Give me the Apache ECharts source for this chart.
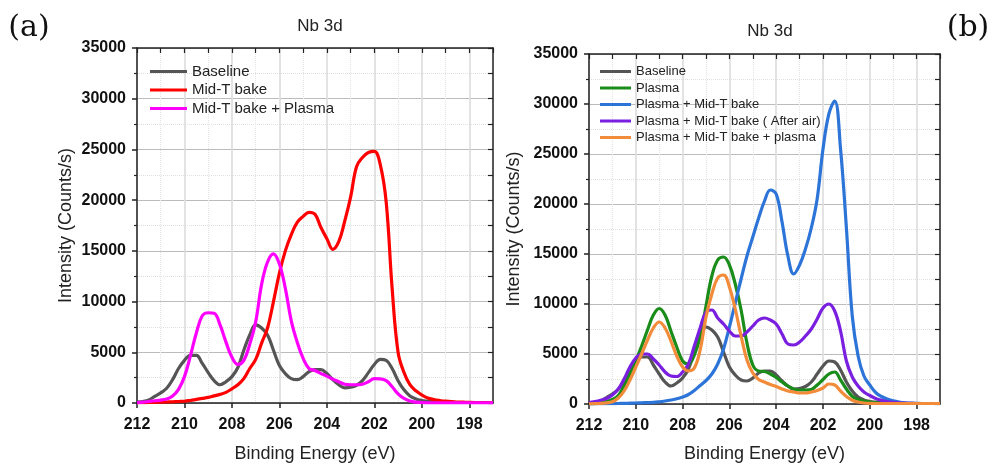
<!DOCTYPE html>
<html>
<head>
<meta charset="utf-8">
<title>Nb 3d</title>
<script src="https://cdn.jsdelivr.net/npm/echarts@6/dist/echarts.min.js"></script>
<style>
  html, body { margin: 0; padding: 0; background: #fff; }
  #chart { width: 997px; height: 464px; }
</style>
</head>
<body>
<div id="chart"></div>
<script>
// binding energy (eV), same grid for every curve
const energy = [
  212, 211.75, 211.5, 211.25, 211, 210.75, 210.5, 210.25, 210, 209.75,
  209.5, 209.25, 209, 208.75, 208.5, 208.25, 208, 207.75, 207.5, 207.25,
  207, 206.75, 206.5, 206.25, 206, 205.75, 205.5, 205.25, 205, 204.75,
  204.5, 204.25, 204, 203.75, 203.5, 203.25, 203, 202.75, 202.5, 202.25,
  202, 201.75, 201.5, 201.25, 201, 200.75, 200.5, 200.25, 200, 199.75,
  199.5, 199.25, 199, 198.75, 198.5, 198.25, 198, 197.75, 197.5, 197.25,
  197
]

// intensities (Counts/s)
const baseline = [
  100, 150, 300, 650, 1000, 1450, 2300, 3400, 4200, 4700,
  4700, 3900, 3000, 2200, 1800, 2100, 2600, 3500, 5200, 6700,
  7700, 7400, 6700, 5200, 3700, 2900, 2400, 2300, 2600, 3100,
  3300, 3300, 2900, 2300, 1800, 1500, 1550, 1750, 2200, 3000,
  3800, 4300, 4200, 3400, 2200, 1300, 700, 400, 250, 180,
  130, 100, 80, 60, 50, 50, 50, 50, 50, 50,
  50
]
const midTBake = [
  30, 40, 50, 60, 80, 100, 120, 150, 170, 250,
  350, 450, 550, 700, 850, 1050, 1400, 1800, 2400, 3400,
  4300, 5900, 7400, 10000, 12800, 15000, 16600, 17800, 18400, 18800,
  18600, 17300, 16200, 15150, 15900, 17900, 20300, 23300, 24200, 24700,
  24800, 23500, 19800, 11300, 5000, 3000, 1800, 1200, 800, 500,
  350, 250, 180, 150, 100, 80, 60, 50, 50, 50,
  50
]
const midTBakePlasma = [
  30, 80, 150, 220, 280, 400, 700, 1350, 2600, 4650,
  6900, 8600, 8900, 8850, 7700, 6000, 4500, 3800, 4200, 5800,
  8000, 11700, 13900, 14700, 13700, 11300, 8100, 6000, 4400, 3400,
  3200, 2900, 2650, 2350, 2100, 1850, 1800, 1800, 1850, 2100,
  2400, 2380, 2200, 1600, 900, 450, 200, 80, 30, 20,
  20, 20, 20, 20, 20, 20, 20, 20, 20, 20,
  20
]
const plasma = [
  30, 60, 120, 260, 450, 850, 1800, 3000, 4300, 5800,
  7400, 8900, 9550, 8900, 7300, 5700, 4300, 4000, 4900, 6700,
  9800, 12800, 14400, 14700, 13900, 12000, 9400, 6100, 3900, 3300,
  3250, 3000, 2650, 2200, 1800, 1500, 1400, 1400, 1450, 1900,
  2450, 3000, 3200, 2400, 1500, 780, 450, 300, 200, 130,
  90, 70, 50, 50, 50, 50, 50, 50, 50, 50,
  50
]
const plasmaMidT = [
  20, 20, 30, 30, 40, 50, 60, 80, 100, 120,
  140, 160, 220, 300, 400, 520, 700, 950, 1350, 1850,
  2350, 3000, 4000, 5500, 7700, 10100, 12500, 14800, 16700, 18600,
  20300, 21400, 21000, 18200, 14800, 13000, 13900, 15500, 17600, 20500,
  25500, 29000, 30300, 25500, 17600, 8800, 4800, 2800, 1900, 1150,
  750, 500, 320, 200, 120, 80, 60, 50, 50, 50,
  50
]
const plasmaMidTAir = [
  150, 250, 380, 550, 900, 1500, 2500, 3700, 4600, 5000,
  5000, 4500, 3900, 3200, 2800, 2750, 3200, 4000, 5800, 7600,
  9200, 9400, 8600, 8000, 7300, 6800, 6800, 7200, 7800, 8400,
  8600, 8400, 8000, 7000, 6000, 5900, 6200, 6800, 7500, 8500,
  9600, 10000, 9300, 7300, 4300, 2700, 1800, 1200, 850, 550,
  380, 250, 170, 120, 90, 70, 50, 50, 50, 50,
  50
]
const plasmaMidTPlasma = [
  20, 30, 60, 120, 220, 600, 1300, 2400, 3700, 5000,
  6400, 7600, 8200, 7600, 6300, 4800, 3700, 3300, 3600, 5400,
  8700, 11000, 12600, 12900, 11700, 9500, 6800, 4400, 3100, 2450,
  2200, 1950, 1750, 1500, 1300, 1200, 1100, 1100, 1200, 1350,
  1600, 2000, 1900, 1300, 750, 380, 200, 100, 60, 50,
  50, 50, 50, 50, 50, 50, 50, 50, 50, 50,
  50
]

const xTicks = [212, 210, 208, 206, 204, 202, 200, 198]

const colors = {
  baseline: '#555555',
  midT: '#ff0000',
  midTPlasma: '#ff00ff',
  plasma: '#1a8c1a',
  plasmaMidT: '#2c74d8',
  air: '#7a1fe0',
  plasmaMidTPlasma: '#f28c3a'
}

const tickFont = { fontFamily: 'Liberation Sans, Arial', fontWeight: 'bold', fontSize: 16, color: '#111' }
const nameFont = { fontFamily: 'Liberation Sans, Arial', fontSize: 18, color: '#222' }
const frame = { lineStyle: { color: '#222', width: 1.5 } }

function bottomAxis (gridIndex, nameGap) {
  return {
    gridIndex,
    type: 'value',
    position: 'bottom',
    min: 197,
    max: 212,
    inverse: true,
    name: 'Binding Energy (eV)',
    nameLocation: 'middle',
    nameGap,
    nameTextStyle: nameFont,
    axisLine: { show: true, onZero: false, ...frame },
    axisTick: { show: true, inside: false, length: 5, customValues: xTicks, lineStyle: { color: '#222', width: 1.5 } },
    axisLabel: { show: true, customValues: xTicks, margin: 14, ...tickFont },
    splitLine: { show: true, lineStyle: { color: '#d8d8d8', width: 1.5 } }
  }
}

function topAxis (gridIndex) {
  return {
    gridIndex,
    type: 'value',
    position: 'top',
    min: 197,
    max: 212,
    interval: 1,
    inverse: true,
    axisLine: { show: true, onZero: false, ...frame },
    axisTick: { show: true, inside: true, length: 5, lineStyle: { color: '#222', width: 1.2 } },
    axisLabel: { show: false },
    splitLine: { show: true, lineStyle: { color: '#e4e4e4', width: 1, type: 'dotted' } }
  }
}

function leftAxis (gridIndex, nameGap) {
  return {
    gridIndex,
    type: 'value',
    position: 'left',
    min: 0,
    max: 35000,
    interval: 5000,
    name: 'Intensity (Counts/s)',
    nameLocation: 'middle',
    nameGap,
    nameTextStyle: nameFont,
    axisLine: { show: true, onZero: false, ...frame },
    axisTick: { show: true, inside: false, length: 5, lineStyle: { color: '#222', width: 1.5 } },
    minorTick: { show: true, splitNumber: 2, length: 3, lineStyle: { color: '#222', width: 1.2 } },
    axisLabel: { show: true, margin: 11, formatter: (v) => String(v), ...tickFont },
    splitLine: { show: true, lineStyle: { color: '#bcbcbc', width: 1 } },
    minorSplitLine: { show: true, lineStyle: { color: '#e0e0e0', width: 1, type: 'dotted' } }
  }
}

function rightAxis (gridIndex) {
  return {
    gridIndex,
    type: 'value',
    position: 'right',
    min: 0,
    max: 35000,
    interval: 2500,
    axisLine: { show: true, onZero: false, ...frame },
    axisTick: { show: true, inside: true, length: 5, lineStyle: { color: '#222', width: 1.2 } },
    axisLabel: { show: false },
    splitLine: { show: false }
  }
}

function curve (name, values, color, xAxisIndex, yAxisIndex) {
  return {
    name,
    type: 'line',
    xAxisIndex,
    yAxisIndex,
    data: energy.map((e, i) => [e, values[i]]),
    smooth: 0.4,
    showSymbol: false,
    symbol: 'none',
    lineStyle: { color, width: 3.2 },
    itemStyle: { color },
    emphasis: { disabled: true }
  }
}

const legendText = (size) => ({ fontFamily: 'Liberation Sans, Arial', fontSize: size, color: '#222' })

const option = {
  animation: false,
  backgroundColor: '#fff',
  grid: [
    { left: 137, right: 504, top: 48, bottom: 61, outerBoundsMode: 'none' },
    { left: 589, right: 57, top: 54, bottom: 60, outerBoundsMode: 'none' }
  ],
  xAxis: [
    bottomAxis(0, 42),
    topAxis(0),
    bottomAxis(1, 41),
    topAxis(1)
  ],
  yAxis: [
    leftAxis(0, 62),
    rightAxis(0),
    leftAxis(1, 66),
    rightAxis(1)
  ],
  legend: [
    {
      orient: 'vertical',
      left: 145,
      top: 59,
      itemWidth: 37,
      itemHeight: 3,
      itemGap: 3.5,
      icon: 'rect',
      selectedMode: false,
      textStyle: legendText(15),
      data: ['Baseline', 'Mid-T bake', 'Mid-T bake + Plasma']
    },
    {
      orient: 'vertical',
      left: 595,
      top: 60,
      itemWidth: 31,
      itemHeight: 3,
      itemGap: 3.5,
      icon: 'rect',
      selectedMode: false,
      textStyle: legendText(13),
      data: ['Baseline', 'Plasma', 'Plasma + Mid-T bake', 'Plasma + Mid-T bake ( After air)', 'Plasma + Mid-T bake + plasma']
    }
  ],
  graphic: [
    { type: 'text', x: 320, y: 26, style: { text: 'Nb 3d', align: 'center', verticalAlign: 'middle', font: '17px "Liberation Sans", Arial', fill: '#222' } },
    { type: 'text', x: 770, y: 31, style: { text: 'Nb 3d', align: 'center', verticalAlign: 'middle', font: '17px "Liberation Sans", Arial', fill: '#222' } },
    { type: 'text', x: 29, y: 28, style: { text: '(a)', align: 'center', verticalAlign: 'middle', font: '30px "DejaVu Serif", serif', fill: '#111' } },
    { type: 'text', x: 968, y: 28, style: { text: '(b)', align: 'center', verticalAlign: 'middle', font: '30px "DejaVu Serif", serif', fill: '#111' } }
  ],
  series: [
    curve('Baseline', baseline, colors.baseline, 0, 0),
    curve('Mid-T bake', midTBake, colors.midT, 0, 0),
    curve('Mid-T bake + Plasma', midTBakePlasma, colors.midTPlasma, 0, 0),
    curve('Baseline', baseline, colors.baseline, 2, 2),
    curve('Plasma', plasma, colors.plasma, 2, 2),
    curve('Plasma + Mid-T bake', plasmaMidT, colors.plasmaMidT, 2, 2),
    curve('Plasma + Mid-T bake ( After air)', plasmaMidTAir, colors.air, 2, 2),
    curve('Plasma + Mid-T bake + plasma', plasmaMidTPlasma, colors.plasmaMidTPlasma, 2, 2)
  ]
}

const myChart = echarts.init(document.getElementById('chart'), null, { renderer: 'canvas' })
myChart.setOption(option)
</script>
</body>
</html>
